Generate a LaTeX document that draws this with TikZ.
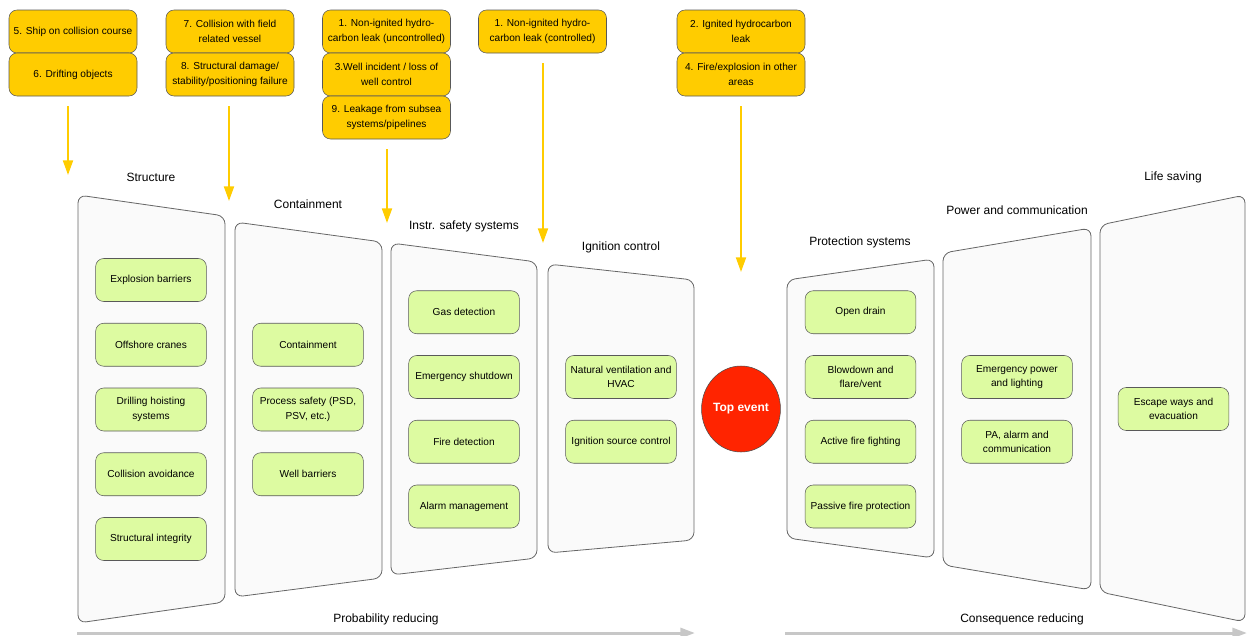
\documentclass[tikz,border=0pt]{standalone}
\usepackage{fontspec}
\setmainfont{Liberation Sans}
\usetikzlibrary{arrows.meta,shapes.geometric}
\definecolor{threatyellow}{RGB}{255,204,0}
\definecolor{barriergreen}{RGB}{221,251,161}
\definecolor{topred}{RGB}{255,36,0}
\definecolor{panelgray}{RGB}{250,250,250}

\begin{document}
\begin{tikzpicture}[x=0.75pt, y=-0.75pt,
  threat/.style={draw=black!65, fill=threatyellow, rounded corners=6pt, minimum width=96pt, minimum height=32.25pt, align=center, font=\fontsize{7.6}{10.8}\selectfont},
  barrier/.style={draw=black!65, fill=barriergreen, rounded corners=6pt, minimum width=83pt, minimum height=32.25pt, align=center, font=\fontsize{7.6}{10.8}\selectfont},
  panel/.style={draw=black!60, fill=panelgray, rounded corners=6pt, line width=0.6pt},
  feed/.style={-{Triangle[length=11pt, width=7.5pt]}, line width=1.5pt, threatyellow, shorten <=7.5pt}]
\useasboundingbox (0,0) rectangle (1247,636);
% barrier panels
\foreach \xa/\ya/\xb/\yb/\yc/\yd in {78/195/225/216/602/623, 235/222/382/242/578/597, 391/243/537/262/558/575, 548/264/694/280/540/553, 787/280/934/259/558/538, 943/253/1091/228/590/565, 1100/225/1245/195/622/592}
  \draw[panel] (\xa,\ya) -- (\xb,\yb) -- (\xb,\yc) -- (\xa,\yd) -- cycle;
% panel titles
\foreach \x/\y/\lbl [count=\i] in {151/177/Structure, 308/204/Containment, 464/226/Instr. safety systems, 621/247/Ignition control, 860/242/Protection systems, 1017/210/Power and communication, 1173/177/Life saving}
  \node[font=\fontsize{9}{11}\selectfont] (title\i) at (\x,\y) {\lbl};
% threats
\node[threat] (y5) at (73,31.5) {5. Ship on collision course};
\node[threat] (y6) at (73,74.5) {6. Drifting objects};
\node[threat] (y7) at (230,31.5) {7. Collision with field\\related vessel};
\node[threat] (y8) at (230,74.5) {8. Structural damage/\\stability/positioning failure};
\node[threat] (y1u) at (386.5,31.5) {1. Non-ignited hydro-\\carbon leak (uncontrolled)};
\node[threat] (y3) at (386.5,74.5) {3.Well incident / loss of\\well control};
\node[threat] (y9) at (386.5,117.5) {9. Leakage from subsea\\systems/pipelines};
\node[threat] (y1c) at (542.5,31.5) {1. Non-ignited hydro-\\carbon leak (controlled)};
\node[threat] (y2) at (741,31.5) {2. Ignited hydrocarbon\\leak};
\node[threat] (y4) at (741,74.5) {4. Fire/explosion in other\\areas};
% feed arrows
\coordinate (ea) at (68,175);
\coordinate (eb) at (229,201);
\coordinate (ec) at (387,223);
\coordinate (ed) at (543,243);
\coordinate (ee) at (741,272);
\draw[feed] (y6.south -| ea) -- (ea);
\draw[feed] (y8.south -| eb) -- (eb);
\draw[feed] (y9.south -| ec) -- (ec);
\draw[feed] (y1c.south -| ed) -- (ed);
\draw[feed] (y4.south -| ee) -- (ee);
% barrier elements
\foreach \lbl [count=\i] in {Explosion barriers, Offshore cranes, {Drilling hoisting\\systems}, Collision avoidance, Structural integrity}
  \node[barrier] (st\i) at (151,{215.25+64.75*\i}) {\lbl};
\foreach \lbl [count=\i] in {Containment, {Process safety (PSD,\\PSV, etc.)}, Well barriers}
  \node[barrier] (co\i) at (308,{280+64.75*\i}) {\lbl};
\foreach \lbl [count=\i] in {Gas detection, Emergency shutdown, Fire detection, Alarm management}
  \node[barrier] (is\i) at (464,{247.5+64.75*\i}) {\lbl};
\foreach \lbl [count=\i] in {{Natural ventilation and\\HVAC}, Ignition source control}
  \node[barrier] (ig\i) at (621,{312.25+64.75*\i}) {\lbl};
\foreach \lbl [count=\i] in {Open drain, {Blowdown and\\flare/vent}, Active fire fighting, Passive fire protection}
  \node[barrier] (pr\i) at (860.5,{247.5+64.75*\i}) {\lbl};
\foreach \lbl [count=\i] in {{Emergency power\\and lighting}, {PA, alarm and\\communication}}
  \node[barrier] (pc\i) at (1017,{312.25+64.75*\i}) {\lbl};
\node[barrier] (ls1) at (1173.5,409) {Escape ways and\\evacuation};
% top event
\node[ellipse, draw=black!70, fill=topred, minimum width=55.5pt, minimum height=64.5pt, inner sep=0pt, text=white, font=\fontsize{9}{11}\selectfont\bfseries] (top) at (741,409) {Top event};
% reducing arrows
\coordinate (pa) at (77,633);
\coordinate (pb) at (695,633);
\coordinate (ca) at (785,633);
\coordinate (cb) at (1247,633);
\draw[-{Triangle[length=11pt, width=7.5pt]}, line width=2.25pt, black!22] (pa) -- (pb);
\draw[-{Triangle[length=11pt, width=7.5pt]}, line width=2.25pt, black!22] (ca) -- (cb);
\node[font=\fontsize{9}{11}\selectfont] (prob) at (386,619) {Probability reducing};
\node[font=\fontsize{9}{11}\selectfont] (cons) at (1022,619) {Consequence reducing};
\end{tikzpicture}
\end{document}
